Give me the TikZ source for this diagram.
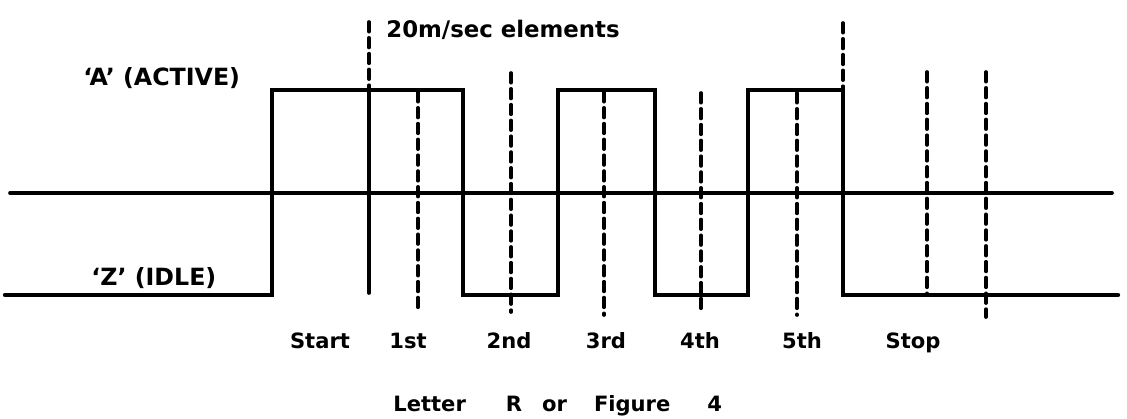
\documentclass[tikz,border=0pt]{standalone}
\usepackage{fontspec}
\setmainfont{DejaVu Sans}
\usetikzlibrary{positioning}

\begin{document}
\begin{tikzpicture}[
    x=0.02cm, y=-0.02cm, line cap=round,
    every node/.style={inner sep=0pt, font=\bfseries\fontsize{12}{14}\selectfont},
    level_text/.style={anchor=base west, font=\bfseries\fontsize{13.5}{16}\selectfont},
    slot_text/.style={anchor=base},
    wave/.style={line width=2.5pt, line join=miter},
    idle_line/.style={line width=2.1pt},
    guide/.style={line width=2.1pt, dash pattern=on 5.5pt off 3.5pt}
]
\useasboundingbox (0,0) rectangle (1127,419);

\draw[idle_line] (10,193) -- (1112,193);
\draw[wave] (5,295) -- (272,295) -- (272,90) -- (463,90) -- (463,295) -- (558,295) -- (558,90) -- (655,90) -- (655,295) -- (748,295) -- (748,90) -- (843,90) -- (843,295) -- (1118,295);

\draw[guide] (369,22) -- (369,90);
\draw[idle_line] (369,90) -- (369,293);
\draw[guide] (843,23) -- (843,90);
\foreach \x/\ya/\yb in {418/92/313, 511/73/312, 604/92/315, 701/93/312, 797/93/315, 927/72/295, 986/72/317}
    \draw[guide] (\x,\ya) -- (\x,\yb);

\node (active_text) [level_text] at (83,85) {‘A’ (ACTIVE)};
\node (idle_text) [level_text] at (91,285) {‘Z’ (IDLE)};
\node (elements_text) [level_text, font=\bfseries\fontsize{13}{15}\selectfont] at (386,37) {20m/sec elements};

\foreach \x/\t/\n in {320/Start/start, 408/1st/first, 509/2nd/second, 606/3rd/third, 700/4th/fourth, 802/5th/fifth, 913/Stop/stop}
    \node (slot_\n) [slot_text] at (\x,348) {\t};

\node (caption_text) [anchor=base west] at (393,411) {Letter\hspace{0.8cm}R\hspace{0.4cm}or\hspace{0.54cm}Figure\hspace{0.74cm}4};
\end{tikzpicture}
\end{document}
